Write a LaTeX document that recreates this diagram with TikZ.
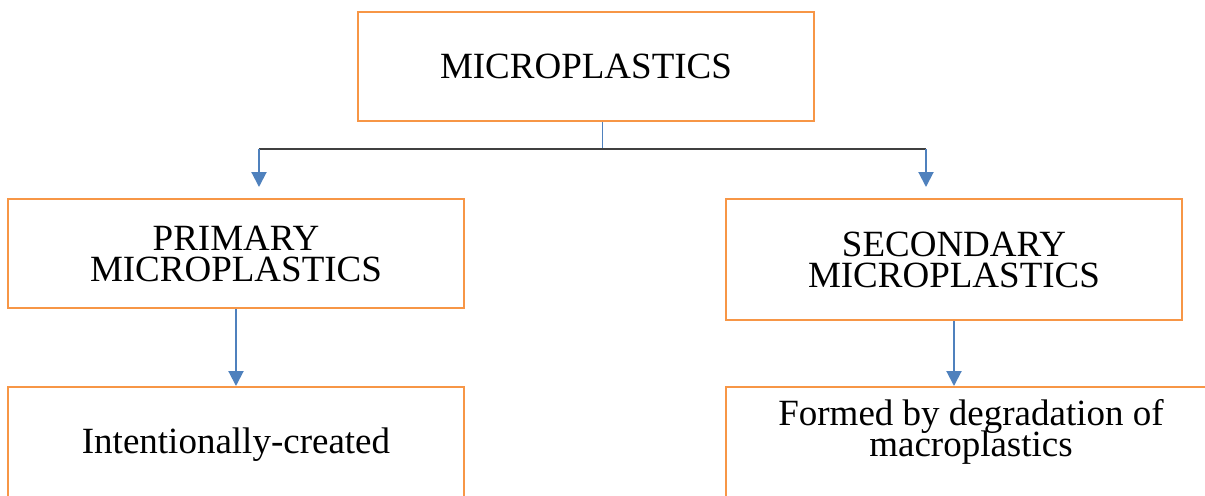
\documentclass[tikz,border=0pt]{standalone}
\usepackage{fontspec}
\setmainfont{Liberation Serif}
\usetikzlibrary{positioning, arrows.meta}
\definecolor{boxorange}{HTML}{F79646}
\definecolor{linkblue}{HTML}{4F81BD}
\definecolor{bargray}{HTML}{404040}
\newcommand{\boxfont}{\fontsize{18.5}{15.5}\selectfont\lineskiplimit=-20pt\relax}

\begin{document}
\begin{tikzpicture}[
        node distance=38pt and 0pt,
        box/.style={draw=boxorange, rectangle, line width=1pt, minimum width=228pt, minimum height=54.5pt, align=center, font=\boxfont},
        arrow/.style={-{Triangle[length=7.5pt, width=7.5pt]}, linkblue, line width=1pt},
        bar/.style={bargray, line width=0.75pt}
    ]
    \useasboundingbox (-293pt,33.25pt) rectangle (309.5pt,-214.25pt);
    \clip (-293pt,33.25pt) rectangle (309.5pt,-214.25pt);
    % --- top ---
    \node[box] (micro) {MICROPLASTICS};
    % --- second row ---
    \node[box, below=38pt of micro, xshift=-175pt] (primary) {PRIMARY\\MICROPLASTICS};
    \node[box, below=38pt of micro, xshift=184pt, minimum height=60.5pt] (secondary) {SECONDARY\\MICROPLASTICS};
    % --- third row (runs off the bottom) ---
    \node[box, text depth=70pt, inner ysep=20.5pt, below=38.5pt of primary] (intent) {Intentionally-created};
    \node[box, text depth=70pt, inner ysep=6pt, minimum width=245pt, below=32.5pt of secondary, xshift=8.5pt] (degrade) {Formed by degradation of\\macroplastics};
    % --- connectors ---
    \coordinate (split) at ([xshift=8.5pt, yshift=-13.5pt]micro.south);
    \coordinate (lturn) at ([xshift=11.5pt]primary.north |- split);
    \coordinate (rturn) at ([xshift=-14pt]secondary.north |- split);
    \draw[linkblue, line width=0.5pt] ([xshift=8.5pt]micro.south) -- (split);
    \draw[bar] (lturn) -- (rturn);
    \draw[arrow] (lturn) -- ([yshift=5.5pt]lturn |- primary.north);
    \draw[arrow] (rturn) -- ([yshift=5.5pt]rturn |- secondary.north);
    \draw[arrow] (primary) -- (intent);
    \draw[arrow] (secondary.south) -- (secondary.south |- degrade.north);
\end{tikzpicture}
\end{document}
